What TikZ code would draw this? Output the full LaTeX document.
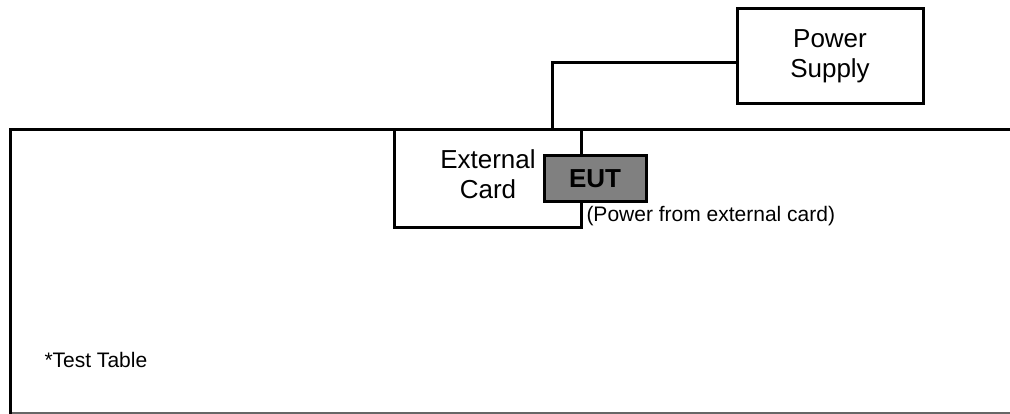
\documentclass[tikz,border=0pt]{standalone}
\usepackage{fontspec}
\setmainfont{Liberation Sans}
\begin{document}
\begin{tikzpicture}[x=1pt,y=-1pt,line width=3pt,
  box/.style={draw=black,line width=3pt,rectangle,inner sep=0pt,fill=white},
  big/.style={font=\fontsize{26}{30}\selectfont},
  small/.style={font=\fontsize{21}{25}\selectfont},
  conn/.style={draw=black,line width=3pt}]
\useasboundingbox (0,0) rectangle (1010,414);
% test table
\draw[gray!80!black,line width=2pt] (10,413) -- (1012,413);
\draw[line width=3pt] (1012,130) -- (10,130) -- (10,414);
\node[small,anchor=base west,inner sep=0pt] (tt) at (43,367) {*Test Table};
% boxes
\node[box,big,align=center,minimum width=186pt,minimum height=95pt] (ps) at (830,56.5) {Power\\Supply};
\node[box,big,align=center,minimum width=187pt,minimum height=98pt] (card) at (487.5,179) {};
\node[big,align=center,inner sep=0pt] (cardtxt) at (488,174) {External\\Card};
\node[box,fill=gray,font=\fontsize{26}{30}\selectfont\bfseries,minimum width=102pt,minimum height=46pt] (eut) at (595,179) {EUT};
\node[small,anchor=base west,inner sep=0pt] (note) at (585,222) {(Power from external card)};
% connector
\draw[conn] ([yshift=-6.5pt]ps.west) -| ([xshift=64.5pt]card.north);
\end{tikzpicture}
\end{document}
